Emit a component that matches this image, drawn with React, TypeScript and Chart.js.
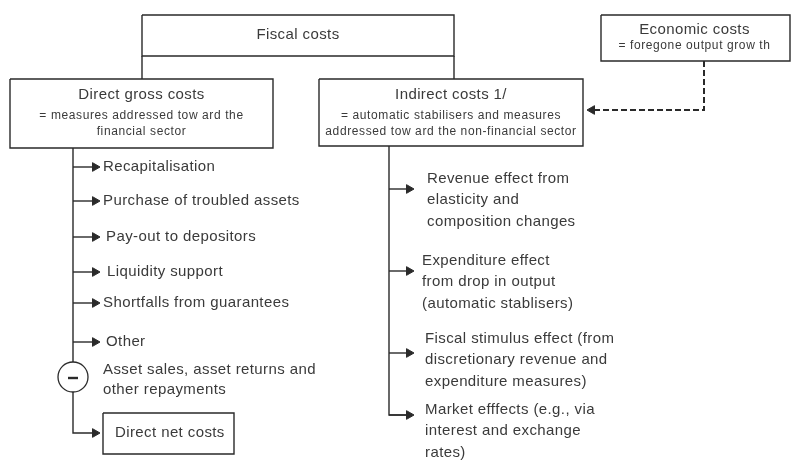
import React, { useEffect, useRef } from "react";
import { Chart, registerables } from "chart.js";
Chart.register(...registerables);

// Diagram coordinate space (x: 0..791 left→right, y: 0..460 top→bottom)
const X_MAX = 791;
const Y_MAX = 460;

// Boxes
const boxNames = ["Fiscal costs", "Direct gross costs", "Indirect costs 1/", "Economic costs", "Direct net costs"];
const boxLeft = [142, 10, 319, 601, 103];
const boxTop = [15, 79, 79, 15, 413];
const boxRight = [454, 273, 583, 790, 234];
const boxBottom = [56, 148, 146, 61, 454];

// Box sub-titles
const subTexts = [
  ["= measures addressed tow ard the", "financial sector"],
  ["= automatic stabilisers and measures", "addressed tow ard the non-financial sector"],
  ["= foregone output grow th"],
];

// Direct gross cost items
const directItems = [
  "Recapitalisation",
  "Purchase of troubled assets",
  "Pay-out to depositors",
  "Liquidity support",
  "Shortfalls from guarantees",
  "Other",
];
const directY = [167, 201, 237, 272, 303, 342];
const directTextX = [103, 103, 106, 107, 103, 106];
const minusText = ["Asset sales, asset returns and", "other repayments"];

// Indirect cost items
const indirectItems = [
  ["Revenue effect from", "elasticity and", "composition changes"],
  ["Expenditure effect", "from drop in output", "(automatic stablisers)"],
  ["Fiscal stimulus effect (from", "discretionary revenue and", "expenditure measures)"],
  ["Market efffects (e.g., via", "interest and exchange", "rates)"],
];
const indirectArrowY = [189, 271, 353, 415];
const indirectTextX = [427, 422, 425, 425];
const indirectTextY = [179, 261, 339, 410];

const LINE = "#2a2a2a";
const TEXT = "#3a3a3a";
const FONT = "'Liberation Sans', Arial, sans-serif";

type Label = { t: string; x: number; y: number; size: number; align: CanvasTextAlign; ls: number };

function buildLabels(): Label[] {
  const L: Label[] = [];
  const cx = (i: number) => (boxLeft[i] + boxRight[i]) / 2;
  const big = 15, small = 12, bls = 0.4, sls = 0.6;
  L.push({ t: boxNames[0], x: cx(0), y: 35, size: big, align: "center", ls: bls });
  L.push({ t: boxNames[1], x: cx(1), y: 95, size: big, align: "center", ls: bls });
  L.push({ t: boxNames[2], x: cx(2), y: 95, size: big, align: "center", ls: bls });
  L.push({ t: boxNames[3], x: cx(3) - 1, y: 29.5, size: big, align: "center", ls: bls });
  L.push({ t: boxNames[4], x: 115, y: 433, size: big, align: "left", ls: bls });
  subTexts[0].forEach((s, k) => L.push({ t: s, x: cx(1), y: 116 + k * 16, size: small, align: "center", ls: sls }));
  subTexts[1].forEach((s, k) => L.push({ t: s, x: cx(2), y: 116 + k * 16, size: small, align: "center", ls: sls }));
  subTexts[2].forEach((s, k) => L.push({ t: s, x: cx(3) - 1, y: 46 + k * 16, size: small, align: "center", ls: sls }));
  directItems.forEach((s, i) => L.push({ t: s, x: directTextX[i], y: directY[i], size: big, align: "left", ls: bls }));
  minusText.forEach((s, k) => L.push({ t: s, x: 103, y: 370 + k * 19.5, size: big, align: "left", ls: bls }));
  indirectItems.forEach((lines, i) =>
    lines.forEach((s, k) =>
      L.push({ t: s, x: indirectTextX[i], y: indirectTextY[i] + k * 21.3, size: big, align: "left", ls: bls })
    )
  );
  return L;
}

const textPlugin = {
  id: "diagramText",
  afterDatasetsDraw(chart: any) {
    const { ctx, scales } = chart;
    const xs = scales.x, ys = scales.y;
    ctx.save();
    ctx.fillStyle = TEXT;
    ctx.textBaseline = "middle";
    for (const l of buildLabels()) {
      ctx.font = `${l.size}px ${FONT}`;
      (ctx as any).letterSpacing = `${l.ls}px`;
      ctx.textAlign = l.align;
      ctx.fillText(l.t, xs.getPixelForValue(l.x), ys.getPixelForValue(l.y));
    }
    ctx.restore();
  },
};

function seg(points: [number, number][], extra: any = {}) {
  return {
    type: "line",
    data: points.map(([x, y]) => ({ x, y })),
    borderColor: LINE,
    borderWidth: 1.4,
    pointRadius: 0,
    fill: false,
    tension: 0,
    showLine: true,
    order: 5,
    ...extra,
  };
}

export default function App() {
  const ref = useRef<HTMLCanvasElement | null>(null);
  useEffect(() => {
    document.body.style.margin = "0";
    const datasets: any[] = [];
    // boxes
    boxNames.forEach((_, i) => {
      datasets.push(
        seg([
          [boxLeft[i], boxTop[i]],
          [boxRight[i], boxTop[i]],
          [boxRight[i], boxBottom[i]],
          [boxLeft[i], boxBottom[i]],
          [boxLeft[i], boxTop[i]],
        ])
      );
    });
    // connectors from fiscal box
    datasets.push(seg([[boxLeft[0], boxBottom[0]], [boxLeft[0], boxTop[1]]]));
    datasets.push(seg([[boxRight[0], boxBottom[0]], [boxRight[0], boxTop[2]]]));
    // left trunk (interrupted by the minus circle)
    const lx = 73;
    const cy = 377;
    datasets.push(seg([[lx, boxBottom[1]], [lx, cy]]));
    datasets.push(seg([[lx, cy], [lx, 433], [95, 433]]));
    directY.forEach((y) => datasets.push(seg([[lx, y], [95, y]])));
    // right trunk
    const rx = 389;
    datasets.push(seg([[rx, boxBottom[2]], [rx, 415], [409, 415]]));
    indirectArrowY.forEach((y) => datasets.push(seg([[rx, y], [409, y]])));
    // dashed economic link
    datasets.push(
      seg([[704, boxBottom[3]], [704, 110], [592, 110]], { borderDash: [6, 3], borderWidth: 2 })
    );
    const head = (pts: { x: number; y: number }[], rotation: number) => ({
      type: "scatter",
      data: pts,
      pointStyle: "triangle",
      rotation,
      pointRadius: 5,
      pointBackgroundColor: LINE,
      pointBorderColor: LINE,
      borderWidth: 1,
      order: 2,
    });
    datasets.push(head([...directY.map((y) => ({ x: 95, y })), { x: 95, y: 433 }], 90));
    datasets.push(head(indirectArrowY.map((y) => ({ x: 409, y })), 90));
    datasets.push(head([{ x: 592, y: 110 }], -90));
    // minus circle
    datasets.push({
      type: "scatter",
      data: [{ x: lx, y: cy }],
      pointStyle: "circle",
      pointRadius: 15,
      pointBackgroundColor: "#ffffff",
      pointBorderColor: LINE,
      borderWidth: 1.3,
      order: 1,
    });
    datasets.push({
      type: "scatter",
      data: [{ x: lx, y: cy + 1 }],
      pointStyle: "line",
      pointRadius: 5,
      pointBorderColor: LINE,
      borderWidth: 2.4,
      order: 0,
    });

    const chart = new Chart(ref.current!, {
      type: "scatter",
      data: { datasets },
      options: {
        animation: false,
        responsive: true,
        maintainAspectRatio: false,
        layout: { padding: 0, autoPadding: false },
        events: [],
        plugins: { legend: { display: false }, tooltip: { enabled: false } },
        scales: {
          x: { type: "linear", min: 0, max: X_MAX, display: false },
          y: { type: "linear", min: 0, max: Y_MAX, reverse: true, display: false },
        },
      },
      plugins: [textPlugin],
    } as any);
    return () => chart.destroy();
  }, []);
  return (
    <div style={{ position: "absolute", left: 0, top: 0, width: 791, height: 460, background: "#fff" }}>
      <canvas ref={ref} />
    </div>
  );
}
